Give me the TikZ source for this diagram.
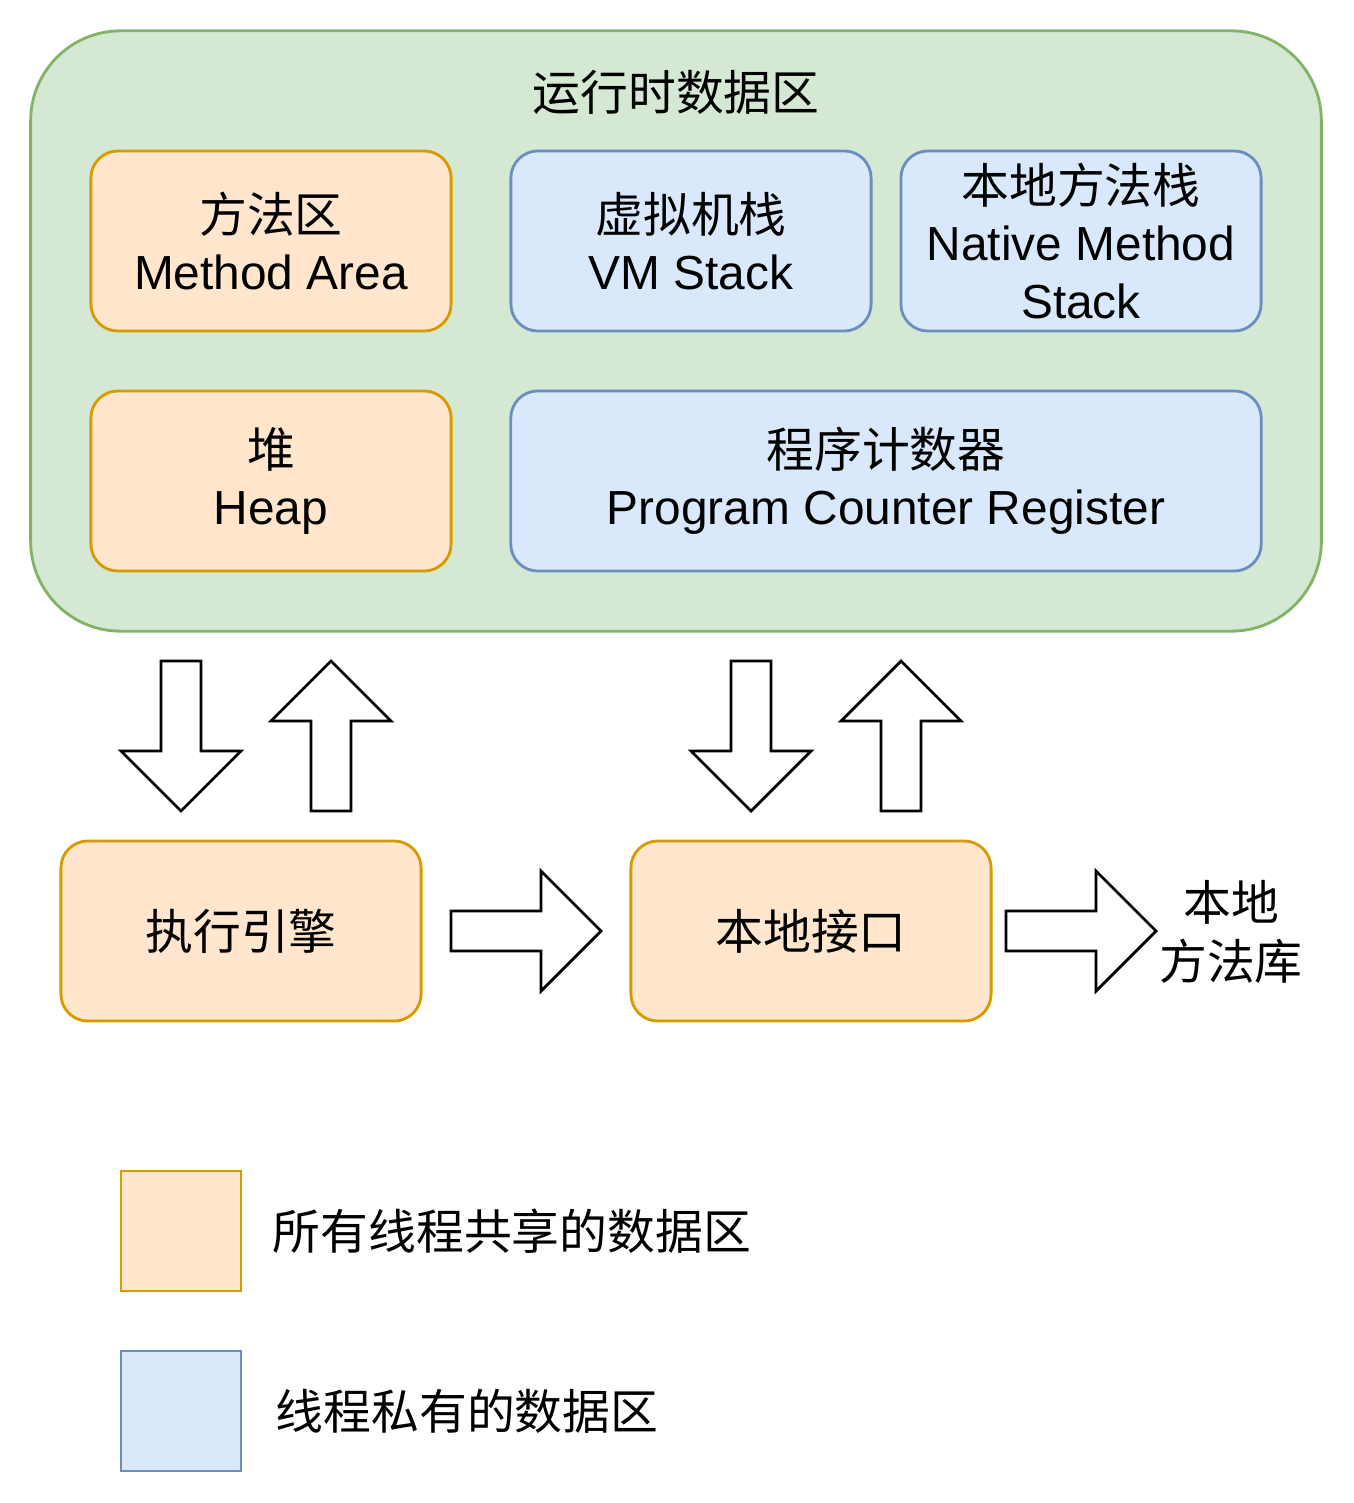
\documentclass[tikz,border=0pt]{standalone}
\usepackage{fontspec}
\setmainfont{Liberation Sans}
\newfontfamily\cjk{Noto Sans CJK SC}
\definecolor{greenF}{HTML}{D5E8D4}
\definecolor{greenD}{HTML}{82B366}
\definecolor{orangeF}{HTML}{FFE6CC}
\definecolor{orangeD}{HTML}{D79B00}
\definecolor{blueF}{HTML}{DAE8FC}
\definecolor{blueD}{HTML}{6C8EBF}
\begin{document}
\begin{tikzpicture}[x=0.01cm,y=-0.01cm,
  txt/.style={align=center, font=\fontsize{13.6}{16.3}\selectfont, inner sep=0pt},
  box/.style={txt, draw, rounded corners=0.27cm, line width=0.8pt, minimum width=3.6cm, minimum height=1.8cm},
  shared/.style={box, fill=orangeF, draw=orangeD},
  private/.style={box, fill=blueF, draw=blueD},
  legendbox/.style={line width=0.8pt, minimum width=1.2cm, minimum height=1.2cm, inner sep=0pt},
  blockarrow/.style={draw=black, fill=white, line width=0.8pt, line join=miter}]
\useasboundingbox[fill=white] (0,0) rectangle (1353,1503);

% runtime data area
\node[draw=greenD, fill=greenF, line width=0.8pt, rounded corners=0.9cm,
      minimum width=12.9cm, minimum height=6cm, inner sep=0pt] (rt) at (676,331) {};
\node[txt] (rttitle) at (676,92) {\cjk 运行时数据区};

\node[shared] (method) at (271,241) {{\cjk 方法区}\\Method Area};
\node[private] (vmstack) at (691,241) {{\cjk 虚拟机栈}\\VM Stack};
\node[private] (native) at (1081,241) {{\cjk 本地方法栈}\\Native Method\\Stack};
\node[shared] (heap) at (271,481) {{\cjk 堆}\\Heap};
\node[private, minimum width=7.5cm] (pc) at (886,481) {{\cjk 程序计数器}\\Program Counter Register};

% engine and interface
\node[shared] (engine) at (241,931) {\cjk 执行引擎};
\node[shared] (iface) at (811,931) {\cjk 本地接口};
\node[txt, font=\fontsize{13.6}{17}\selectfont] (lib) at (1231,932) {{\cjk 本地}\\{\cjk 方法库}};

% block arrows: down
\draw[blockarrow] (161,661) -- (201,661) -- (201,751) -- (241,751) -- (181,811) -- (121,751) -- (161,751) -- cycle;
\draw[blockarrow] (731,661) -- (771,661) -- (771,751) -- (811,751) -- (751,811) -- (691,751) -- (731,751) -- cycle;
% up
\draw[blockarrow] (311,811) -- (351,811) -- (351,721) -- (391,721) -- (331,661) -- (271,721) -- (311,721) -- cycle;
\draw[blockarrow] (881,811) -- (921,811) -- (921,721) -- (961,721) -- (901,661) -- (841,721) -- (881,721) -- cycle;
% right
\draw[blockarrow] (451,911) -- (541,911) -- (541,871) -- (601,931) -- (541,991) -- (541,951) -- (451,951) -- cycle;
\draw[blockarrow] (1006,911) -- (1096,911) -- (1096,871) -- (1156,931) -- (1096,991) -- (1096,951) -- (1006,951) -- cycle;

% legend
\node[legendbox, draw=orangeD, fill=orangeF] (lg1) at (181,1231) {};
\node[txt, anchor=west] (lg1t) at (272,1231) {\cjk 所有线程共享的数据区};
\node[legendbox, draw=blueD, fill=blueF] (lg2) at (181,1411) {};
\node[txt, anchor=west] (lg2t) at (275,1411) {\cjk 线程私有的数据区};
\end{tikzpicture}
\end{document}
